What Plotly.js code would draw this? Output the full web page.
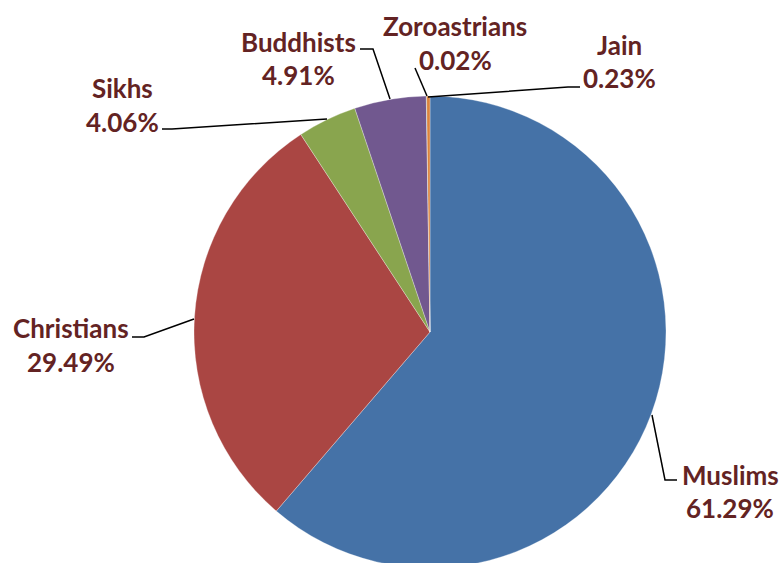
<!DOCTYPE html>
<html>
<head>
<meta charset="utf-8">
<script src="https://cdn.plot.ly/plotly-3.0.1.min.js"></script>
<style>
html,body{margin:0;padding:0;overflow:hidden;background:#fff;}
#chart{width:780px;height:575px;}
</style>
</head>
<body>
<div id="chart"></div>
<script>
// Data
var religions = ["Muslims", "Christians", "Sikhs", "Buddhists", "Zoroastrians", "Jain"];
var shares = [61.29, 29.49, 4.06, 4.91, 0.02, 0.23];
var sliceColors = ["#4572A7", "#AA4643", "#89A54E", "#71588F", "#4198AF", "#DB843D"];

// Layout helpers (pixel positions of labels and leader lines)
var W = 780, H = 575;
function px(x){ return x / W; }
function py(y){ return (H - y) / H; }

var labelPos = {
  "Muslims":      {x: 730, y1: 475, y2: 508},
  "Christians":   {x: 71,  y1: 328, y2: 362},
  "Sikhs":        {x: 122, y1: 88,  y2: 122},
  "Buddhists":    {x: 298, y1: 42,  y2: 75},
  "Zoroastrians": {x: 455, y1: 26,  y2: 60},
  "Jain":         {x: 619, y1: 45,  y2: 78}
};
var leaders = [
  [[652,415],[665,480],[677,480]],
  [[132,337],[144,337],[194,319]],
  [[162,129],[172,129],[327,119]],
  [[360,49],[373,49],[390,99]],
  [[415,68],[427,96]],
  [[428,97],[568,87],[580,87]]
];

var textColor = "#632323";
var font = {family: "Lato, 'Open Sans', sans-serif", size: 26, color: textColor, weight: 700};

var annotations = [];
religions.forEach(function(name, i){
  var p = labelPos[name];
  annotations.push({xref:"paper", yref:"paper", x:px(p.x), y:py(p.y1), text:"<b>"+name+"</b>",
    showarrow:false, xanchor:"center", yanchor:"middle", font:font});
  annotations.push({xref:"paper", yref:"paper", x:px(p.x), y:py(p.y2), text:"<b>"+shares[i].toFixed(2)+"%</b>",
    showarrow:false, xanchor:"center", yanchor:"middle", font:font});
});

var shapes = leaders.map(function(pts){
  var d = pts.map(function(pt, k){ return (k===0?"M":"L") + px(pt[0]) + "," + py(pt[1]); }).join(" ");
  return {type:"path", xref:"paper", yref:"paper", path:d, line:{color:"#000", width:1.5}};
});

var cx = 430, cy = 332, r = 236;
var trace = {
  type: "pie",
  labels: religions,
  values: shares,
  sort: false,
  direction: "clockwise",
  rotation: 0,
  textinfo: "none",
  hoverinfo: "label+percent",
  marker: {colors: sliceColors, line: {color: "#ffffff", width: 0.3}},
  domain: {x: [px(cx - r), px(cx + r)], y: [py(cy + r), py(cy - r)]},
  showlegend: false
};

var layout = {
  width: W, height: H,
  margin: {l:0, r:0, t:0, b:0},
  paper_bgcolor: "#ffffff",
  showlegend: false,
  annotations: annotations,
  shapes: shapes
};

Plotly.newPlot("chart", [trace], layout, {displayModeBar:false, staticPlot:true});
</script>
</body>
</html>
